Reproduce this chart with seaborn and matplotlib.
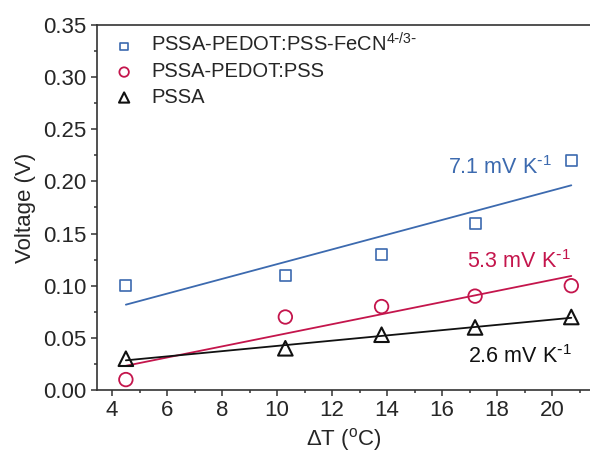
import matplotlib
matplotlib.use("Agg")
import matplotlib.pyplot as plt
import seaborn as sns
import numpy as np
from matplotlib.ticker import MultipleLocator

sns.set_style("ticks")
plt.rcParams['font.family'] = ['Liberation Sans', 'DejaVu Sans']
plt.rcParams['mathtext.default'] = 'regular'

dT = [4.5, 10.3, 13.8, 17.2, 20.7]
v_fecn = [0.10, 0.11, 0.13, 0.16, 0.22]
v_pedot = [0.01, 0.07, 0.08, 0.09, 0.10]
v_pssa = [0.03, 0.04, 0.053, 0.06, 0.07]

labels = [r'PSSA-PEDOT:PSS-FeCN$^{4\text{-}/3\text{-}}$', 'PSSA-PEDOT:PSS', 'PSSA']
slopes = [r'7.1 mV K$^{\text{-}1}$', r'5.3 mV K$^{\text{-}1}$', r'2.6 mV K$^{\text{-}1}$']
colors = ['#3c6aaf', '#c4154c', '#111111']
markers = ['s', 'o', '^']
sizes = [62, 95, 110]
lws = [1.2, 1.3, 1.5]

fig = plt.figure(figsize=(5.9, 4.57), dpi=100)
ax = fig.add_axes([97/590, 1-390/457, 1-97/590, (390-25)/457])

series = [v_fecn, v_pedot, v_pssa]
for y, lab, c, m, s, lw in zip(series, labels, colors, markers, sizes, lws):
    sns.scatterplot(x=dT, y=y, ax=ax, marker=m, s=s, facecolor='none',
                    edgecolor=c, linewidth=lw, label=lab, zorder=3)
    sns.regplot(x=dT, y=y, ax=ax, scatter=False, ci=None, truncate=True,
                color=c, line_kws={'lw': 1.3})

ax.set_xlim(3.45, 21.38)
ax.set_ylim(0, 0.35)
ax.xaxis.set_major_locator(MultipleLocator(2))
ax.xaxis.set_minor_locator(MultipleLocator(1))
ax.yaxis.set_major_locator(MultipleLocator(0.05))
ax.yaxis.set_minor_locator(MultipleLocator(0.025))
ax.yaxis.set_major_formatter(matplotlib.ticker.FormatStrFormatter('%.2f'))

for sp in ['left', 'bottom', 'top']:
    ax.spines[sp].set_color('#333333')
    ax.spines[sp].set_linewidth(1.2)
ax.spines['right'].set_visible(False)
ax.tick_params(which='major', length=4.5, width=1.1, color='#333333',
               labelsize=16, pad=3, direction='out')
ax.tick_params(which='minor', length=2.5, width=1.1, color='#333333', direction='out')

ax.set_xlabel(r'$\Delta$T ($^{o}$C)', fontsize=16, labelpad=3)
ax.set_ylabel('Voltage (V)', fontsize=16, labelpad=5)

pos = [(16.2, 0.213), (16.9, 0.123), (16.95, 0.032)]
for (tx, ty), t, c in zip(pos, slopes, colors):
    ax.text(tx, ty, t, color=c, fontsize=15.5, va='center', ha='left')

leg = ax.legend(loc='upper left', frameon=False, fontsize=14.5,
                handletextpad=0.75, labelspacing=0.32, handlelength=1.2,
                markerscale=0.7, borderaxespad=0.2, bbox_to_anchor=(0.006, 1.012))

fig.savefig('out.png', dpi=100)
